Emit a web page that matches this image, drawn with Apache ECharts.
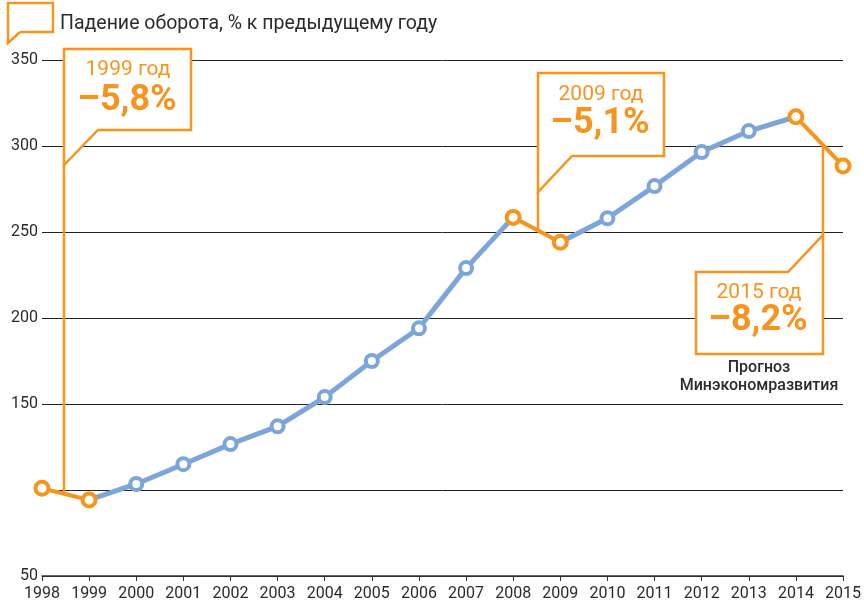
<!DOCTYPE html>
<html>
<head>
<meta charset="utf-8">
<script src="https://cdn.jsdelivr.net/npm/echarts@6/dist/echarts.min.js"></script>
<style>
html,body{margin:0;padding:0;background:#fff;}
#chart{width:864px;height:603px;}
</style>
</head>
<body>
<div id="chart"></div>
<script>
var years = ['1998','1999','2000','2001','2002','2003','2004','2005','2006','2007','2008','2009','2010','2011','2012','2013','2014','2015'];
var turnover = [101, 94.2, 103.5, 115, 126.7, 137, 154, 175, 194, 229, 258.5, 244, 258, 276.7, 296.5, 308.7, 317, 288.4];
// годы падения (индексы в years) - оранжевые отрезки
var fallPairs = [[0, 1], [10, 11], [16, 17]];
var yTicks = [50, 100, 150, 200, 250, 300, 350];
var hiddenTick = 100;

var ORANGE = '#f7941e', BLUE = '#7ca6da', TEXT = '#2b2b2b';

var orangeIdx = [];
fallPairs.forEach(function(p){ orangeIdx.push(p[0], p[1]); });

function pick(from, to){
	return turnover.map(function(v, i){ return (i >= from && i <= to) ? v : '-'; });
}
var orangeLine = turnover.map(function(v, i){ return orangeIdx.indexOf(i) >= 0 ? v : '-'; });
var blueDots = [], orangeDots = [];
turnover.forEach(function(v, i){
	if (orangeIdx.indexOf(i) >= 0) orangeDots.push([i, v]); else blueDots.push([i, v]);
});

var chart = echarts.init(document.getElementById('chart'));

var option = {
	animation: false,
	grid: {left: 42, right: 20, top: 60, bottom: 27},
	xAxis: {
		type: 'category',
		data: years,
		boundaryGap: false,
		axisLine: {lineStyle: {color: '#333', width: 1.5}},
		axisTick: {show: true, length: 5, lineStyle: {color: '#333'}},
		axisLabel: {interval: 0, color: TEXT, fontSize: 16, fontFamily: 'Roboto', margin: 10}
	},
	yAxis: {
		type: 'value',
		min: yTicks[0],
		max: yTicks[yTicks.length - 1],
		interval: 50,
		axisLine: {show: false},
		axisTick: {show: false},
		axisLabel: {
			color: TEXT, fontSize: 16, fontFamily: 'Roboto', margin: 4,
			formatter: function(v){ return v === hiddenTick ? '' : v; }
		},
		splitLine: {lineStyle: {color: '#222', width: 1}}
	},
	series: [
		{type: 'line', data: pick(1, 10), symbol: 'none', lineStyle: {color: BLUE, width: 5}, z: 3},
		{type: 'line', data: pick(11, 16), symbol: 'none', lineStyle: {color: BLUE, width: 5}, z: 3},
		{type: 'line', data: orangeLine, connectNulls: false, symbol: 'none', lineStyle: {color: ORANGE, width: 4}, z: 3},
		{type: 'scatter', data: blueDots, symbol: 'circle', symbolSize: 12,
			itemStyle: {color: '#fff', borderColor: BLUE, borderWidth: 4, opacity: 1}, z: 4},
		{type: 'scatter', data: orangeDots, symbol: 'circle', symbolSize: 13,
			itemStyle: {color: '#fff', borderColor: ORANGE, borderWidth: 4, opacity: 1}, z: 4}
	]
};
chart.setOption(option);

// точка на оранжевом отрезке под выноской
function segY(pair, x){
	var a = chart.convertToPixel({gridIndex: 0}, [pair[0], turnover[pair[0]]]);
	var b = chart.convertToPixel({gridIndex: 0}, [pair[1], turnover[pair[1]]]);
	return a[1] + (b[1] - a[1]) * (x - a[0]) / (b[0] - a[0]);
}

function txt(x, y, s, font, color){
	return {type: 'text', x: x, y: y, z: 2,
		style: {text: s, font: font, fill: color, textAlign: 'center', textVerticalAlign: 'middle'}};
}
function box(points){
	return {type: 'polygon', z: 1, shape: {points: points},
		style: {fill: '#fff', stroke: ORANGE, lineWidth: 2.5}};
}
function conn(x1, y1, x2, y2){
	return {type: 'line', z: 1, shape: {x1: x1, y1: y1, x2: x2, y2: y2},
		style: {stroke: ORANGE, lineWidth: 2.5}};
}

var bigFont = 'bold 36px Roboto', yearFont = '21px Roboto';

chart.setOption({
	graphic: [
		{type: 'polyline', z: 2, shape: {points: [[20,32],[53,32],[53,3],[8,3],[8,43],[20,32]]},
			style: {fill: null, stroke: ORANGE, lineWidth: 2.5}},
		{type: 'text', x: 60, y: 24, z: 2,
			style: {text: 'Падение оборота, % к предыдущему году', font: '19.5px Roboto', fill: TEXT, textVerticalAlign: 'middle'}},

		// 1999
		conn(64, 165, 64, segY(fallPairs[0], 64)),
		box([[64,49],[191,49],[191,130],[98,130],[64,165]]),
		txt(128, 70, '1999 год', yearFont, ORANGE),
		txt(127, 101, '–5,8%', bigFont, ORANGE),

		// 2009
		conn(538, 192, 538, segY(fallPairs[1], 538)),
		box([[538,73],[664,73],[664,156],[572,156],[538,192]]),
		txt(601, 95, '2009 год', yearFont, ORANGE),
		txt(600, 124, '–5,1%', bigFont, ORANGE),

		// 2015
		conn(823, 235, 823, segY(fallPairs[2], 823)),
		box([[696,272],[788,272],[823,235],[823,354],[696,354]]),
		txt(759, 293, '2015 год', yearFont, ORANGE),
		txt(758, 321, '–8,2%', bigFont, ORANGE),
		txt(759, 368, 'Прогноз', '500 16px Roboto', TEXT),
		txt(759, 386, 'Минэкономразвития', '500 16px Roboto', TEXT)
	]
});
</script>
</body>
</html>
